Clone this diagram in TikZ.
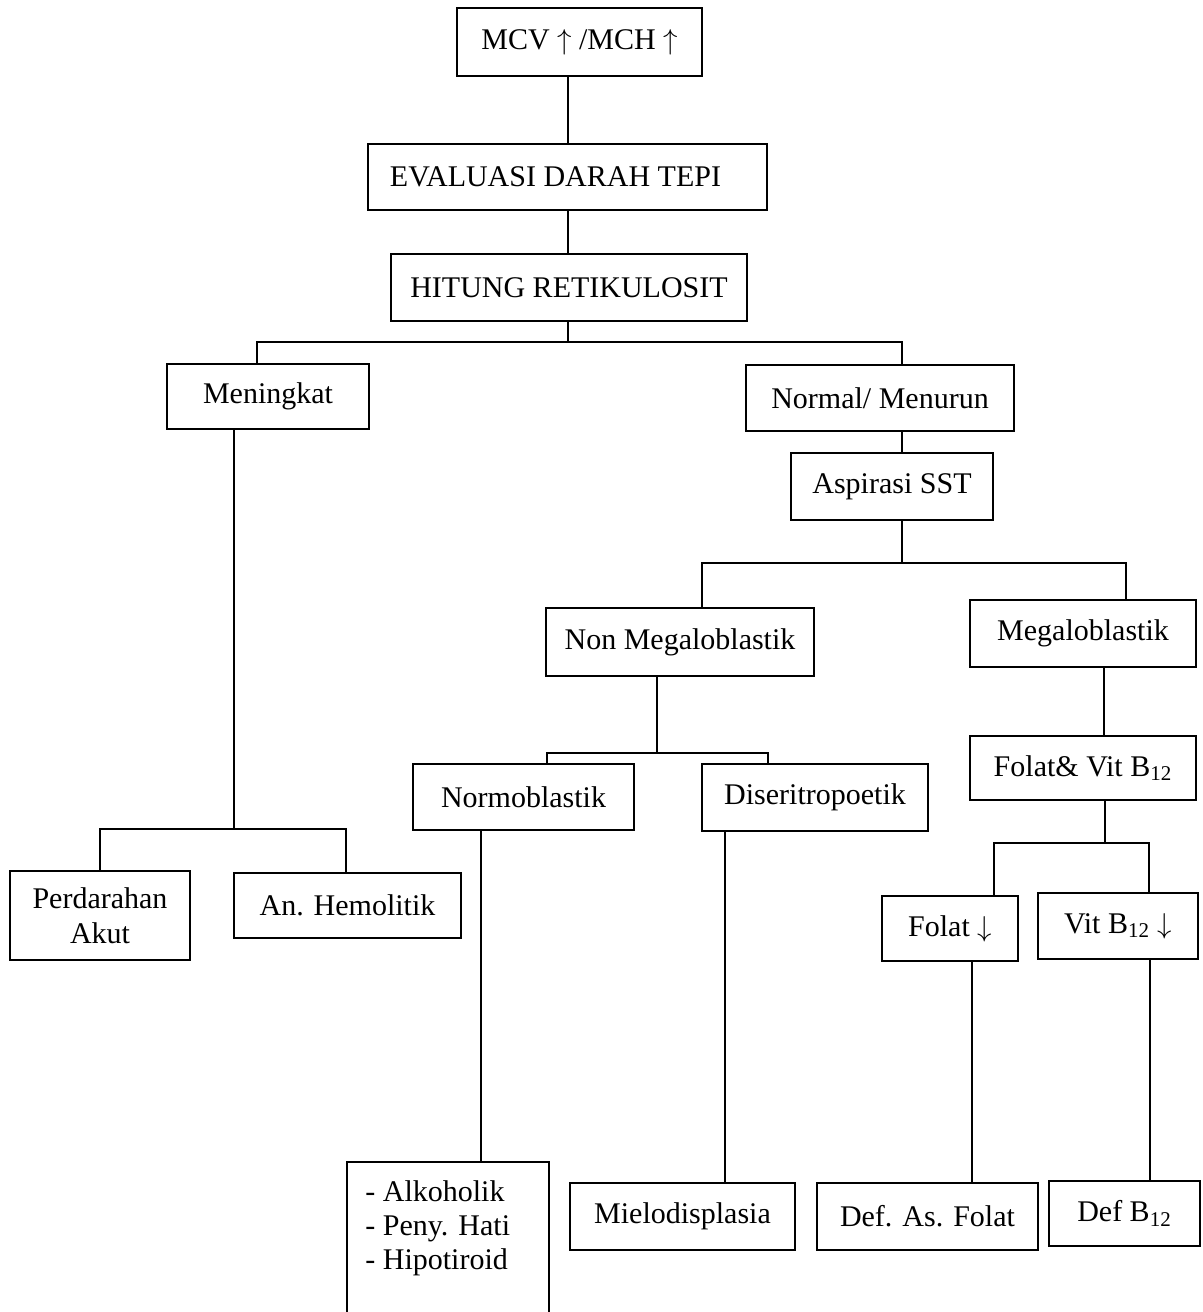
\documentclass[tikz,border=0pt]{standalone}
\usepackage{fontspec}
\setmainfont{Liberation Serif}
\begin{document}
\begin{tikzpicture}[x=0.5pt,y=-0.5pt,
  bx/.style 2 args={draw, line width=1.3pt, inner sep=0pt, align=center,
             minimum width=#1*0.5pt, minimum height=#2*0.5pt,
             font=\fontsize{15}{17.5}\selectfont},
  ln/.style={line width=1.2pt},
  txt/.style={inner sep=0pt, align=left, font=\fontsize{15}{17}\selectfont}]
\clip (0,0) rectangle (1203,1312);
\fill[white] (0,0) rectangle (1203,1312);
% boxes
\node[bx={245}{68}] (mcv) at (579.5,42) {MCV $\uparrow$ /MCH $\uparrow$};
\node[bx={399}{66}, label={[font=\fontsize{15}{17.5}\selectfont, xshift=-6pt]center:EVALUASI DARAH TEPI}] (eval) at (567.5,177) {};
\node[bx={356}{67}] (hitung) at (569,287.5) {HITUNG RETIKULOSIT};
\node[bx={202}{65}] (men) at (268,396.5) {Meningkat};
\node[bx={268}{66}] (norm) at (880,398) {Normal/ Menurun};
\node[bx={202}{67}] (asp) at (892,486.5) {Aspirasi SST};
\node[bx={268}{68}] (nonmega) at (680,642) {Non Megaloblastik};
\node[bx={226}{67}] (mega) at (1083,633.5) {Megaloblastik};
\node[bx={221}{66}] (normo) at (523.5,797) {Normoblastik};
\node[bx={226}{67}] (diser) at (815,797.5) {Diseritropoetik};
\node[bx={226}{64}] (folvit) at (1083,768) {Folat\& Vit B\textsubscript{12}};
\node[bx={180}{89}] (perd) at (100,915.5) {Perdarahan\\Akut};
\node[bx={227}{65}] (hemo) at (347.5,905.5) {An. Hemolitik};
\node[bx={136}{65}] (folat) at (950,928.5) {Folat $\downarrow$};
\node[bx={160}{66}] (vit) at (1118,926) {Vit B\textsubscript{12} $\downarrow$};
\node[bx={202}{168}] (alk) at (448,1246) {};
\node[txt, anchor=north west] (alkt) at (365,1180) {- Alkoholik\\- Peny. Hati\\- Hipotiroid};
\node[bx={225}{67}] (mielo) at (682.5,1216.5) {Mielodisplasia};
\node[bx={221}{67}] (deffol) at (927.5,1216.5) {Def. As. Folat};
\node[bx={151}{65}] (defb) at (1124.5,1213.5) {Def B\textsubscript{12}};
% connector coordinates
\coordinate (c1) at (568,0);
\coordinate (j1) at (568,342); \coordinate (j1l) at (257,342); \coordinate (j1r) at (902,342);
\coordinate (j2) at (902,563); \coordinate (j2l) at (702,563); \coordinate (j2r) at (1126,563);
\coordinate (j3) at (657,753); \coordinate (j3l) at (547,753); \coordinate (j3r) at (768,753);
\coordinate (c2) at (1104,0);
\coordinate (j4) at (1105,843); \coordinate (j4l) at (994,843); \coordinate (j4r) at (1149,843);
\coordinate (j5) at (234,829); \coordinate (j5l) at (100,829); \coordinate (j5r) at (346,829);
\coordinate (c3) at (481,0); \coordinate (c4) at (725,0);
\coordinate (c5) at (972,0); \coordinate (c6) at (1150,0);
% connectors
\draw[ln] (mcv.south -| c1) -- (eval.north -| c1);
\draw[ln] (eval.south -| c1) -- (hitung.north -| c1);
\draw[ln] (hitung.south -| j1) -- (j1);
\draw[ln] (men.north -| j1l) -- (j1l) -- (j1r) -- (norm.north -| j1r);
\draw[ln] (norm.south -| j1r) -- (asp.north -| j1r);
\draw[ln] (asp.south -| j2) -- (j2);
\draw[ln] (nonmega.north -| j2l) -- (j2l) -- (j2r) -- (mega.north -| j2r);
\draw[ln] (nonmega.south -| j3) -- (j3);
\draw[ln] (normo.north -| j3l) -- (j3l) -- (j3r) -- (diser.north -| j3r);
\draw[ln] (mega.south -| c2) -- (folvit.north -| c2);
\draw[ln] (folvit.south -| j4) -- (j4);
\draw[ln] (folat.north -| j4l) -- (j4l) -- (j4r) -- (vit.north -| j4r);
\draw[ln] (men.south -| j5) -- (j5);
\draw[ln] (perd.north -| j5l) -- (j5l) -- (j5r) -- (hemo.north -| j5r);
\draw[ln] (normo.south -| c3) -- (alk.north -| c3);
\draw[ln] (diser.south -| c4) -- (mielo.north -| c4);
\draw[ln] (folat.south -| c5) -- (deffol.north -| c5);
\draw[ln] (vit.south -| c6) -- (defb.north -| c6);
\end{tikzpicture}
\end{document}
